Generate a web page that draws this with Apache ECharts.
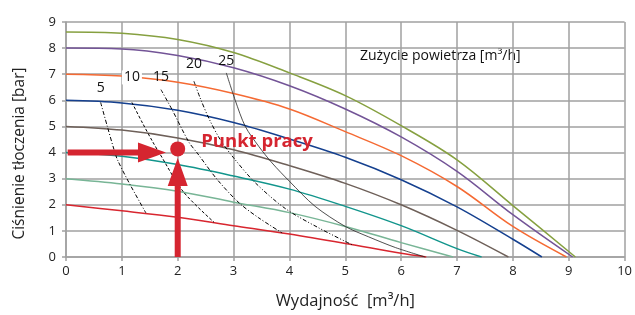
<!DOCTYPE html>
<html>
<head>
<meta charset="utf-8">
<script src="https://cdn.jsdelivr.net/npm/echarts@6/dist/echarts.min.js"></script>
<style>
    html,body{margin:0;padding:0;background:#fff;}
    #main{width:635px;height:315px;}
</style>
</head>
<body>
<div id="main"></div>
<script>
// krzywe pompy: [wydajnosc, cisnienie]
var pump2 = [[0,2],[1,1.77],[2,1.52],[3,1.2],[4,0.88],[5,0.52],[6,0.14],[6.45,0]];
var pump3 = [[0,3],[1,2.8],[2,2.52],[3,2.1],[4,1.7],[5,1.17],[6,0.55],[6.93,0]];
var pump4 = [[0,4],[1,3.86],[2,3.54],[3,3.1],[4,2.6],[5,1.94],[6,1.2],[7,0.32],[7.44,0]];
var pump5 = [[0,5],[1,4.86],[2,4.56],[3,4.11],[4,3.5],[5,2.82],[6,2.0],[7,1.02],[7.92,0]];
var pump6 = [[0,6],[1,5.9],[2,5.62],[3,5.15],[4,4.52],[5,3.82],[6,2.96],[7,1.92],[8,0.68],[8.52,0]];
var pump7 = [[0,7],[1,6.93],[2,6.69],[3,6.26],[4,5.67],[5,4.8],[6,3.88],[7,2.7],[8,1.17],[8.96,0]];
var pump8 = [[0,8],[1,7.97],[2,7.72],[3,7.25],[4,6.56],[5,5.67],[6,4.6],[7,3.28],[8,1.62],[9.07,0]];
var pump86 = [[0,8.62],[1,8.57],[2,8.33],[3,7.83],[4,7.05],[5,6.18],[6,5.03],[7,3.72],[8,1.97],[9.12,0]];

// zuzycie powietrza [m3/h]
var airNames = ['5','10','15','20','25'];
var air5 = [[0.62,5.92],[0.74,5.0],[0.86,4.11],[0.92,3.73],[1.13,2.84],[1.43,1.69]];
var air10 = [[1.18,5.92],[1.37,5.13],[1.55,4.42],[1.68,3.95],[2.1,2.5],[2.65,1.33]];
var air15 = [[1.7,6.41],[1.9,5.64],[2.2,4.4],[2.35,3.98],[2.71,2.96],[3.1,2.07],[3.45,1.5],[3.87,0.92]];
var air20 = [[2.29,6.73],[2.4,6.1],[2.56,5.3],[2.76,4.5],[3.0,3.8],[3.39,2.84],[3.93,1.85],[4.52,1.12],[5.12,0.47]];
var air25 = [[2.87,7.05],[3.03,6.0],[3.21,5.0],[3.45,4.24],[3.69,3.6],[4.0,2.9],[4.46,1.94],[5.0,1.17],[5.42,0.77],[5.9,0.36],[6.43,0]];

// punkt pracy i strzalki
var workPoint = [2.0, 4.14];
var arrowH = [0.03, 4.0, 1.79, 4.0];
var arrowV = [2.0, 0.0, 2.0, 3.79];

var RED = '#d52530';
var FONT = 'Open Sans';
var labelGap = [7, 18, 6, 10, 5];//odstep etykiety nad poczatkiem linii

function pumpSeries(data, color) {
    return {
        type: 'line',
        data: data,
        smooth: 0.35,
        symbol: 'none',
        z: 3,
        lineStyle: {color: color, width: 1.5}
    };
}

function airSeries(data, dash, width, color) {
    return {
        type: 'line',
        data: data,
        smooth: 0.3,
        symbol: 'none',
        z: 4,
        lineStyle: {color: color || '#000', width: width, type: dash}
    };
}

function arrowItem(params, api) {//strzalka jako wielokat
    var p0 = api.coord([api.value(0), api.value(1)]);
    var p1 = api.coord([api.value(2), api.value(3)]);
    var dx = p1[0] - p0[0], dy = p1[1] - p0[1];
    var len = Math.sqrt(dx * dx + dy * dy);
    var ux = dx / len, uy = dy / len;
    var nx = -uy, ny = ux;
    var hw = 3, headW = 10, headL = 28;
    var bx = p1[0] - ux * headL, by = p1[1] - uy * headL;
    return {
        type: 'polygon',
        shape: {
            points: [
                [p0[0] + nx * hw, p0[1] + ny * hw],
                [bx + nx * hw, by + ny * hw],
                [bx + nx * headW, by + ny * headW],
                [p1[0], p1[1]],
                [bx - nx * headW, by - ny * headW],
                [bx - nx * hw, by - ny * hw],
                [p0[0] - nx * hw, p0[1] - ny * hw]
            ]
        },
        style: {fill: RED}
    };
}

// etykiety 5..25 przy poczatku kazdej linii
var airStarts = [air5, air10, air15, air20, air25].map(function (d, i) {
    return {
        value: d[0],
        label: {
            distance: labelGap[i],
            formatter: airNames[i],
            backgroundColor: i === 1 ? '#fff' : 'transparent',
            padding: i === 1 ? [0, 2] : 0
        }
    };
});

var myChart = echarts.init(document.getElementById('main'));
var option = {
    animation: false,
    backgroundColor: '#fff',
    textStyle: {fontFamily: FONT},
    grid: {left: 66, right: 7, top: 22, bottom: 57},
    xAxis: {
        type: 'value', min: 0, max: 10, interval: 1,
        name: 'Wydajność  [m³/h]', nameLocation: 'middle', nameGap: 36,
        nameTextStyle: {fontSize: 16.5, color: '#222', fontFamily: FONT},
        axisLine: {show: true, lineStyle: {color: '#a0a0a0', width: 1.5}},
        axisTick: {show: true, length: 4, lineStyle: {color: '#a0a0a0', width: 1.5}},
        axisLabel: {fontSize: 13, color: '#222', margin: 8, fontFamily: FONT},
        splitLine: {show: true, lineStyle: {color: '#a0a0a0', width: 1.5}}
    },
    yAxis: {
        type: 'value', min: 0, max: 9, interval: 1,
        name: 'Ciśnienie tłoczenia [bar]', nameLocation: 'middle', nameGap: 38,
        nameTextStyle: {fontSize: 15.5, color: '#222', fontFamily: FONT, padding: [0, 28, 0, 0]},
        axisLine: {show: true, lineStyle: {color: '#a0a0a0', width: 1.5}},
        axisTick: {show: true, length: 4, lineStyle: {color: '#a0a0a0', width: 1.5}},
        axisLabel: {fontSize: 13, color: '#222', margin: 10, fontFamily: FONT},
        splitLine: {show: true, lineStyle: {color: '#a0a0a0', width: 1.5}}
    },
    graphic: [
        {
            type: 'text', left: 360, top: 49,
            style: {text: 'Zużycie powietrza [m³/h]', fontSize: 14, fill: '#111', fontFamily: FONT}
        }
    ],
    series: [
        pumpSeries(pump2, '#d8262f'),
        pumpSeries(pump3, '#78b596'),
        pumpSeries(pump4, '#12958c'),
        pumpSeries(pump5, '#6e6059'),
        pumpSeries(pump6, '#15408f'),
        pumpSeries(pump7, '#f56a33'),
        pumpSeries(pump8, '#735497'),
        pumpSeries(pump86, '#86a040'),
        airSeries(air5, [4, 2, 1, 2], 1),
        airSeries(air10, [3, 2], 1),
        airSeries(air15, [4, 2, 1, 2], 1),
        airSeries(air20, [4, 2, 1, 2, 1, 2], 1),
        airSeries(air25, 'solid', 0.8, '#222'),
        {
            type: 'scatter',
            data: airStarts,
            symbolSize: 0,
            z: 5,
            itemStyle: {opacity: 1},
            label: {
                show: true, position: 'top',
                color: '#111', fontSize: 14, fontFamily: FONT
            }
        },
        {
            type: 'custom',
            renderItem: arrowItem,
            data: [arrowH, arrowV],
            encode: {x: [0, 2], y: [1, 3]},
            z: 6
        },
        {
            type: 'scatter',
            data: [workPoint],
            symbolSize: 15,
            itemStyle: {color: RED, opacity: 1},
            z: 7,
            label: {
                show: true, position: 'right', distance: 16, offset: [0, -7],
                formatter: 'Punkt pracy',
                color: RED, fontSize: 18.5, fontWeight: 'bold', fontFamily: FONT
            }
        }
    ]
};
myChart.setOption(option);
</script>
</body>
</html>
